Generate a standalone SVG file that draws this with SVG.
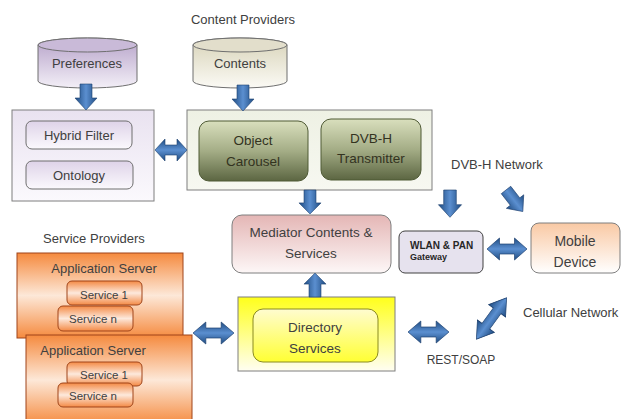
<svg xmlns="http://www.w3.org/2000/svg" width="621" height="419" viewBox="0 0 621 419">
<defs>
<linearGradient id="gPref" x1="0" y1="0" x2="0" y2="1"><stop offset="0" stop-color="#b6a2c9"/><stop offset="1" stop-color="#f3eff7"/></linearGradient>
<linearGradient id="gCont" x1="0" y1="0" x2="0" y2="1"><stop offset="0" stop-color="#d8d3b8"/><stop offset="1" stop-color="#fbfaf5"/></linearGradient>
<linearGradient id="gLav" x1="0" y1="0" x2="0" y2="1"><stop offset="0" stop-color="#e9e2f0"/><stop offset="1" stop-color="#fbf9fd"/></linearGradient>
<linearGradient id="gLavIn" x1="0" y1="0" x2="0" y2="1"><stop offset="0" stop-color="#ded3e8"/><stop offset="1" stop-color="#fbf9fd"/></linearGradient>
<linearGradient id="gGreenBox" x1="0" y1="0" x2="0" y2="1"><stop offset="0" stop-color="#eef1e4"/><stop offset="1" stop-color="#f7f8f1"/></linearGradient>
<linearGradient id="gGreen" x1="0" y1="0" x2="0" y2="1"><stop offset="0" stop-color="#d9dfbd"/><stop offset="0.5" stop-color="#a4ad86"/><stop offset="1" stop-color="#5c6642"/></linearGradient>
<linearGradient id="gPink" x1="0" y1="0" x2="0" y2="1"><stop offset="0" stop-color="#e4b6b5"/><stop offset="1" stop-color="#fdf7f7"/></linearGradient>
<linearGradient id="gPeach" x1="0" y1="0" x2="0" y2="1"><stop offset="0" stop-color="#f9c9a4"/><stop offset="1" stop-color="#ffffff"/></linearGradient>
<linearGradient id="gYel" x1="0" y1="0" x2="0" y2="1"><stop offset="0" stop-color="#ffff1a"/><stop offset="1" stop-color="#fffef2"/></linearGradient>
<linearGradient id="gYelIn" x1="0" y1="0" x2="0" y2="1"><stop offset="0" stop-color="#fffcd0"/><stop offset="1" stop-color="#ffff33"/></linearGradient>
<linearGradient id="gOrange" x1="0" y1="0" x2="0" y2="1"><stop offset="0" stop-color="#f58a3e"/><stop offset="0.5" stop-color="#fde8d8"/><stop offset="1" stop-color="#f58a3e"/></linearGradient>
<linearGradient id="gSvc" x1="0" y1="0" x2="0" y2="1"><stop offset="0" stop-color="#f48a45"/><stop offset="0.5" stop-color="#fde9dc"/><stop offset="1" stop-color="#f48a45"/></linearGradient>
<linearGradient id="gArrH" x1="0" y1="0" x2="0" y2="1"><stop offset="0" stop-color="#1f4c82"/><stop offset="0.5" stop-color="#5b8fd0"/><stop offset="1" stop-color="#1f4c82"/></linearGradient>
<linearGradient id="gArrV" x1="0" y1="0" x2="1" y2="0"><stop offset="0" stop-color="#1f4c82"/><stop offset="0.5" stop-color="#5b8fd0"/><stop offset="1" stop-color="#1f4c82"/></linearGradient>
<polygon id="dblArrow" points="-16,0 -6,-11 -6,-5 6,-5 6,-11 16,0 6,11 6,5 -6,5 -6,11"/>
<polygon id="downArrow" points="-6,0 6,0 6,14 11,14 0,26 -11,14 -6,14"/>
</defs>
<style>
text{font-family:"Liberation Sans","Open Sans",Arial,sans-serif;fill:#404040;font-size:13px;}
.c{text-anchor:middle;}
.box{stroke:#7f7f7f;stroke-width:1;}
.arrH{fill:url(#gArrH);stroke:#1c3f6e;stroke-width:0.6;}
.arrV{fill:url(#gArrV);stroke:#1c3f6e;stroke-width:0.6;}
.svc{fill:url(#gSvc);stroke:#a0451a;stroke-width:1;}
.svt{font-size:11.5px;}
.grn{font-size:13.5px;fill:#33331f;}
</style>

<text class="c" x="243" y="24">Content Providers</text>
<text x="451" y="169">DVB-H Network</text>
<text x="43" y="243">Service Providers</text>
<text x="523" y="317">Cellular Network</text>
<text class="c" x="461" y="364" style="font-size:12px">REST/SOAP</text>

<g id="preferences">
<path d="M38,45 A49.5,7 0 0 1 137,45 V81 A49.5,7 0 0 1 38,81 Z" fill="url(#gPref)" stroke="#6f6f6f"/>
<ellipse cx="87.5" cy="45" rx="49.5" ry="7" fill="#c9bad8" stroke="#6f6f6f"/>
<text class="c" x="87" y="68">Preferences</text>
</g>

<g id="contents">
<path d="M193,45 A47,7 0 0 1 287,45 V81 A47,7 0 0 1 193,81 Z" fill="url(#gCont)" stroke="#6f6f6f"/>
<ellipse cx="240" cy="45" rx="47" ry="7" fill="#e2decb" stroke="#6f6f6f"/>
<text class="c" x="240" y="68">Contents</text>
</g>

<g id="filter-group">
<rect class="box" x="12" y="110" width="142" height="91" fill="url(#gLav)"/>
<g id="hybrid-filter">
<rect x="26" y="121" width="106" height="28" rx="6" fill="url(#gLavIn)" stroke="#6f6f6f"/>
<text class="c" x="79" y="140">Hybrid Filter</text>
</g>
<g id="ontology">
<rect x="26" y="161" width="107" height="28" rx="6" fill="url(#gLavIn)" stroke="#6f6f6f"/>
<text class="c" x="79" y="180">Ontology</text>
</g>
</g>

<g id="content-group">
<rect class="box" x="187" y="110" width="245" height="80" fill="url(#gGreenBox)"/>
<g id="object-carousel">
<rect x="199" y="121" width="109" height="60" rx="10" fill="url(#gGreen)" stroke="#4f5a35"/>
<text class="c grn" x="253" y="145">Object</text>
<text class="c grn" x="253" y="166">Carousel</text>
</g>
<g id="dvbh-transmitter">
<rect x="321" y="119" width="100" height="61" rx="10" fill="url(#gGreen)" stroke="#4f5a35"/>
<text class="c grn" x="371" y="143">DVB-H</text>
<text class="c grn" x="371" y="163">Transmitter</text>
</g>
</g>

<g id="mediator">
<rect x="232" y="215" width="159" height="58" rx="10" fill="url(#gPink)" stroke="#7f7f7f"/>
<text class="c" x="311" y="237" style="font-size:13.5px">Mediator Contents &amp;</text>
<text class="c" x="311" y="258" style="font-size:13.5px">Services</text>
</g>

<g id="wlan-gateway">
<rect x="399" y="231" width="84" height="42" rx="6" fill="#e6e2ee" stroke="#404040"/>
<text x="410" y="249" style="font-size:10px;font-weight:bold;fill:#262626">WLAN &amp; PAN</text>
<text x="410" y="260" style="font-size:9px;font-weight:bold;fill:#262626">Gateway</text>
</g>

<g id="mobile-device">
<rect x="531" y="223" width="89" height="50" rx="8" fill="url(#gPeach)" stroke="#7f7f7f"/>
<text class="c" x="575" y="246" style="font-size:14px">Mobile</text>
<text class="c" x="575" y="267" style="font-size:14px">Device</text>
</g>

<g id="directory-services">
<rect class="box" x="238" y="297" width="157" height="74" fill="url(#gYel)"/>
<rect x="253" y="309" width="125" height="53" rx="10" fill="url(#gYelIn)" stroke="#8a8a20"/>
<text class="c" x="315" y="332" style="font-size:13.5px">Directory</text>
<text class="c" x="315" y="353" style="font-size:13.5px">Services</text>
</g>

<g id="app-server-1">
<rect x="17" y="253" width="166" height="85" fill="url(#gOrange)" stroke="#a0451a"/>
<text class="c" x="104" y="273">Application  Server</text>
<rect class="svc" x="67" y="281" width="75" height="24" rx="5"/>
<text class="c svt" x="104" y="299">Service 1</text>
<rect class="svc" x="58" y="306" width="75" height="25" rx="5"/>
<text class="c svt" x="93" y="323">Service n</text>
</g>

<g id="app-server-2">
<rect x="26" y="335" width="166" height="90" fill="url(#gOrange)" stroke="#a0451a"/>
<text class="c" x="93" y="355">Application  Server</text>
<rect class="svc" x="67" y="362" width="75" height="24" rx="5"/>
<text class="c svt" x="104" y="379">Service 1</text>
<rect class="svc" x="58" y="383" width="75" height="24" rx="5"/>
<text class="c svt" x="93" y="400">Service n</text>
</g>

<g id="connectors">
<use href="#downArrow" class="arrV" transform="translate(86,84)"/>
<use href="#downArrow" class="arrV" transform="translate(243,85)"/>
<use href="#downArrow" class="arrV" transform="translate(310,190) scale(1,0.92)"/>
<use href="#downArrow" class="arrV" transform="translate(450,190) scale(1.05,1.05)"/>
<use href="#downArrow" class="arrV" transform="translate(315,297) scale(1,-0.92)"/>
<use href="#downArrow" class="arrV" transform="translate(506,190) rotate(-38) scale(1,1.05)"/>
<use href="#dblArrow" class="arrH" transform="translate(171,150)"/>
<use href="#dblArrow" class="arrH" transform="translate(213.5,333) scale(1.28,1)"/>
<use href="#dblArrow" class="arrH" transform="translate(507,249) scale(1.25,1)"/>
<use href="#dblArrow" class="arrH" transform="translate(428.5,332) scale(1.28,1)"/>
<use href="#dblArrow" class="arrH" transform="translate(491.5,318.5) rotate(-54) scale(1.6,0.95)"/>
</g>
</svg>
